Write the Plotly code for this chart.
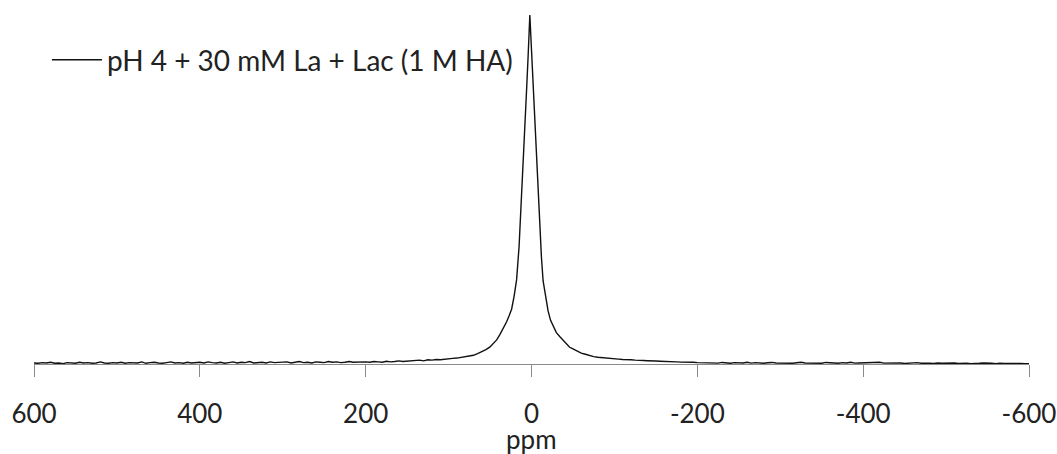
import plotly.graph_objects as go

# ---- data ----
# chemical shift sampling positions (ppm)
left_base_ppm = list(range(600, 100, -5))          # 600 ... 105
right_base_ppm = list(range(-105, -605, -5))       # -105 ... -600
peak_ppm = [100, 95, 90, 85, 80, 75, 70, 65, 60, 55, 50, 46, 42, 38, 34, 30, 27, 24,
            21, 18, 15, 12, 9, 6, 4, 2, 0, -2, -4, -6, -8, -10, -12, -14, -16, -18,
            -20, -23, -26, -30, -34, -38, -42, -46, -50, -55, -60, -65, -70, -75,
            -80, -85, -90, -95, -100]

# intensities (peak maximum = 100)
left_base_int = [
    0.3, 0.2, 0.4, 0.3, 0.5, 0.2, 0.3, 0.1, 0.4, 0.3, 0.2, 0.5, 0.3, 0.4, 0.2, 0.3, 0.6, 0.3, 0.2, 0.4,
    0.3, 0.5, 0.2, 0.4, 0.3, 0.3, 0.6, 0.2, 0.4, 0.5, 0.3, 0.2, 0.4, 0.6, 0.3, 0.4, 0.2, 0.5, 0.3, 0.4,
    0.5, 0.3, 0.6, 0.4, 0.3, 0.5, 0.2, 0.4, 0.6, 0.3, 0.5, 0.4, 0.7, 0.3, 0.4, 0.5, 0.3, 0.6, 0.4, 0.5,
    0.4, 0.6, 0.3, 0.5, 0.7, 0.4, 0.5, 0.3, 0.6, 0.5, 0.4, 0.7, 0.5, 0.6, 0.4, 0.5, 0.7, 0.5, 0.6, 0.5,
    0.6, 0.5, 0.7, 0.6, 0.5, 0.8, 0.6, 0.7, 0.9, 0.7, 0.8, 1.0, 0.9, 1.1, 0.9, 1.2, 1.1, 1.3, 1.2, 1.4,
]
peak_int = [1.5, 1.6, 1.7, 1.85, 2.0, 2.15, 2.5, 3.0, 3.5, 4.1, 4.9, 5.8, 6.9, 8.5, 10.2, 12.1, 13.8, 15.7,
            19.4, 24.1, 33.6, 47.2, 63.0, 78.2, 88.6, 100.0, 90.0, 80.0, 69.5, 59.4, 49.0, 38.0, 30.5,
            23.8, 20.6, 17.5, 15.2, 12.5, 11.0, 9.0, 7.9, 6.8, 5.7, 4.8, 4.3, 3.65, 3.1, 2.8, 2.4, 2.1,
            1.95, 1.8, 1.7, 1.6, 1.5]
right_base_int = [
    1.4, 1.3, 1.35, 1.2, 1.1, 1.15, 1.0, 0.95, 1.0, 0.85, 0.8, 0.7, 0.75, 0.65, 0.6, 0.55, 0.6, 0.45, 0.5, 0.4,
    0.35, 0.5, 0.3, 0.4, 0.25, 0.45, 0.3, 0.2, 0.4, 0.35, 0.3, 0.5, 0.25, 0.4, 0.3, 0.2, 0.35, 0.45, 0.3, 0.25,
    0.4, 0.3, 0.2, 0.35, 0.5, 0.3, 0.25, 0.4, 0.3, 0.2, 0.45, 0.3, 0.35, 0.2, 0.4, 0.3, 0.5, 0.25, 0.3, 0.35,
    0.2, 0.4, 0.3, 0.5, 0.25, 0.3, 0.2, 0.35, 0.3, 0.15, 0.3, 0.25, 0.4, 0.2, 0.3, 0.25, 0.15, 0.3, 0.2, 0.25,
    0.2, 0.3, 0.15, 0.25, 0.2, 0.1, 0.25, 0.2, 0.3, 0.15, 0.2, 0.1, 0.25, 0.15, 0.2, 0.1, 0.2, 0.15, 0.1, 0.1,
]

tick_vals = [600, 400, 200, 0, -200, -400, -600]
tick_text = ["600", "400", "200", "0", "-200", "-400", "-600"]
series_name = "pH 4 + 30 mM La + Lac (1 M HA)"
x_title = "ppm"

ppm = left_base_ppm + peak_ppm + right_base_ppm
intensity = left_base_int + peak_int + right_base_int

FONT = "Lato"
TXT = "#222222"
FS = 28
TFS = 26

fig = go.Figure()
fig.add_trace(go.Scatter(
    x=ppm, y=intensity, mode="lines", name=series_name,
    line=dict(color="#111111", width=1.4),
))

fig.update_layout(
    width=1057, height=454,
    margin=dict(l=34, r=28, t=0, b=90),
    paper_bgcolor="white", plot_bgcolor="white",
    showlegend=True,
    legend=dict(
        x=0.013, y=0.835, xanchor="left", yanchor="middle",
        font=dict(family=FONT, size=FS, color=TXT),
        bgcolor="rgba(0,0,0,0)", borderwidth=0,
        itemwidth=50,
    ),
    xaxis=dict(
        range=[600, -600], autorange=False, automargin=False,
        tickmode="array", tickvals=tick_vals, ticktext=tick_text,
        ticks="outside", ticklen=12, tickwidth=1, tickcolor="#8a8a8a",
        showline=True, linecolor="#8a8a8a", linewidth=1,
        showgrid=False, zeroline=False,
        tickfont=dict(family=FONT, size=TFS, color=TXT),
        ticklabelstandoff=15,
        ticklabeloverflow="allow",
    ),
    yaxis=dict(
        range=[0, 104.3], autorange=False, automargin=False,
        showline=False, showgrid=False, zeroline=False,
        showticklabels=False, ticks="",
    ),
    annotations=[dict(
        text=x_title, xref="x", yref="paper", x=0, y=-0.157,
        xanchor="center", yanchor="top", showarrow=False,
        font=dict(family=FONT, size=TFS, color=TXT),
    )],
)

fig.write_html("out.html", config={"displayModeBar": False},
               post_script="document.body.style.margin='0';")
